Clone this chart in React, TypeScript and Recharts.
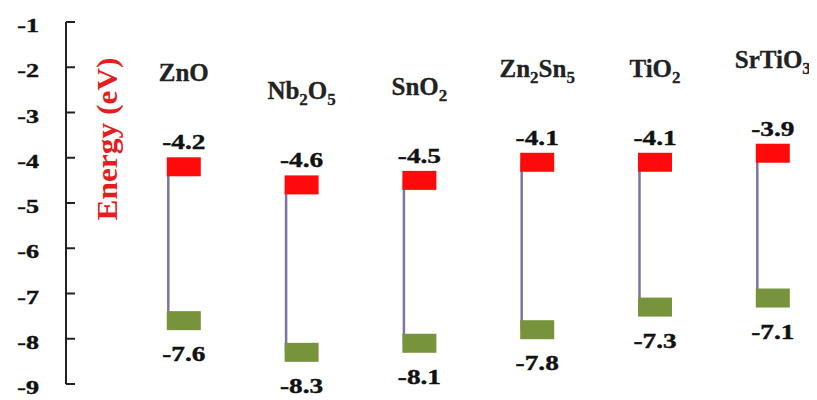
import React from 'react';
import { ComposedChart, Bar, XAxis, YAxis } from 'recharts';

const categories = ['ZnO', 'Nb2O5', 'SnO2', 'Zn2Sn5', 'TiO2', 'SrTiO3'];
const conductionBand = [-4.2, -4.6, -4.5, -4.1, -4.1, -3.9];
const valenceBand = [-7.6, -8.3, -8.1, -7.8, -7.3, -7.1];
const yTicks = [-1, -2, -3, -4, -5, -6, -7, -8, -9];

const data = categories.map((name, i) => ({
  name,
  cb: conductionBand[i],
  vb: valenceBand[i],
  range: [valenceBand[i], conductionBand[i]],
}));

const FONT = '"Liberation Serif", "Times New Roman", serif';

function Formula({ text, x, y, size }: { text: string; x: number; y: number; size: number }) {
  const parts = text.match(/[A-Za-z]+|\d+/g) || [];
  let prevSub = false;
  const spans = parts.map((p, i) => {
    const isSub = /\d/.test(p);
    let dy = 0;
    if (isSub && !prevSub) dy = 6;
    if (!isSub && prevSub) dy = -6;
    prevSub = isSub;
    return (
      <tspan key={i} dy={dy} fontSize={isSub ? size * 0.68 : size}>
        {p}
      </tspan>
    );
  });
  return (
    <text
      x={x}
      y={y}
      textAnchor="middle"
      fontFamily={FONT}
      fontWeight="bold"
      fontSize={size}
      fill="#222"
      stroke="#222"
      strokeWidth={0.3}
    >
      {spans}
    </text>
  );
}

const BOX_W = 34;
const BOX_H = 19;

const BandShape = (props: any) => {
  const { x, y, width, height, payload } = props;
  const cx = x + width / 2;
  const top = Math.min(y, y + height);
  const bottom = Math.max(y, y + height);
  const left = cx - BOX_W / 2;
  return (
    <g>
      <line x1={left + 1.5} x2={left + 1.5} y1={top} y2={bottom} stroke="#7a74a6" strokeWidth={2.5} />
      <rect x={left} y={top - BOX_H / 2} width={BOX_W} height={BOX_H} fill="#ff0a0a" />
      <rect x={left} y={bottom - BOX_H / 2} width={BOX_W} height={BOX_H} fill="#77933c" />
      <text
        transform={`translate(${cx},${top - BOX_H / 2 - 8}) scale(1.3,1)`}
        textAnchor="middle"
        fontFamily={FONT}
        fontWeight="bold"
        fontSize={21}
        fill="#111"
        stroke="#111"
        strokeWidth={0.4}
      >
        {payload.cb.toFixed(1)}
      </text>
      <text
        transform={`translate(${cx},${bottom + BOX_H / 2 + 31}) scale(1.3,1)`}
        textAnchor="middle"
        fontFamily={FONT}
        fontWeight="bold"
        fontSize={21}
        fill="#111"
        stroke="#111"
        strokeWidth={0.4}
      >
        {payload.vb.toFixed(1)}
      </text>
      <Formula text={payload.name} x={cx} y={top - BOX_H / 2 - 76} size={25} />
    </g>
  );
};

const YTick = (props: any) => {
  const { x, y, payload } = props;
  return (
    <text
      transform={`translate(${x},${y + 10}) scale(1.45,1)`}
      textAnchor="end"
      fontFamily={FONT}
      fontWeight="bold"
      fontSize={18}
      fill="#111"
      stroke="#111"
      strokeWidth={0.4}
    >
      {payload.value}
    </text>
  );
};

const YTitle = (props: any) => {
  const vb = props.viewBox || { x: 0, y: 0, width: 0, height: 0 };
  const tx = vb.x + vb.width + 51;
  const ty = vb.y + 117;
  return (
    <text
      x={tx}
      y={ty}
      transform={`rotate(-90, ${tx}, ${ty})`}
      textAnchor="middle"
      fontFamily={FONT}
      fontWeight="bold"
      fontSize={29}
      textLength={163}
      lengthAdjust="spacingAndGlyphs"
      fill="#e41e20"
    >
      Energy (eV)
    </text>
  );
};

export default function App() {
  return (
    <div style={{ width: 809, height: 392, background: '#fff' }}>
      <ComposedChart
        width={809}
        height={392}
        data={data}
        margin={{ top: 14, right: 0, bottom: 16, left: 0 }}
      >
        <XAxis
          dataKey="name"
          type="category"
          hide
          height={0}
          padding={{ left: 58.8, right: -14.6 }}
        />
        <YAxis
          type="number"
          domain={[-9, -1]}
          ticks={yTicks}
          interval={0}
          width={58}
          axisLine={{ stroke: '#222', strokeWidth: 2 }}
          tickLine={{ stroke: '#222', strokeWidth: 2 }}
          tickSize={-9}
          tickMargin={36}
          tick={<YTick />}
          label={{ content: <YTitle /> }}
        />
        <Bar dataKey="range" barSize={34} shape={<BandShape />} isAnimationActive={false} />
      </ComposedChart>
    </div>
  );
}
